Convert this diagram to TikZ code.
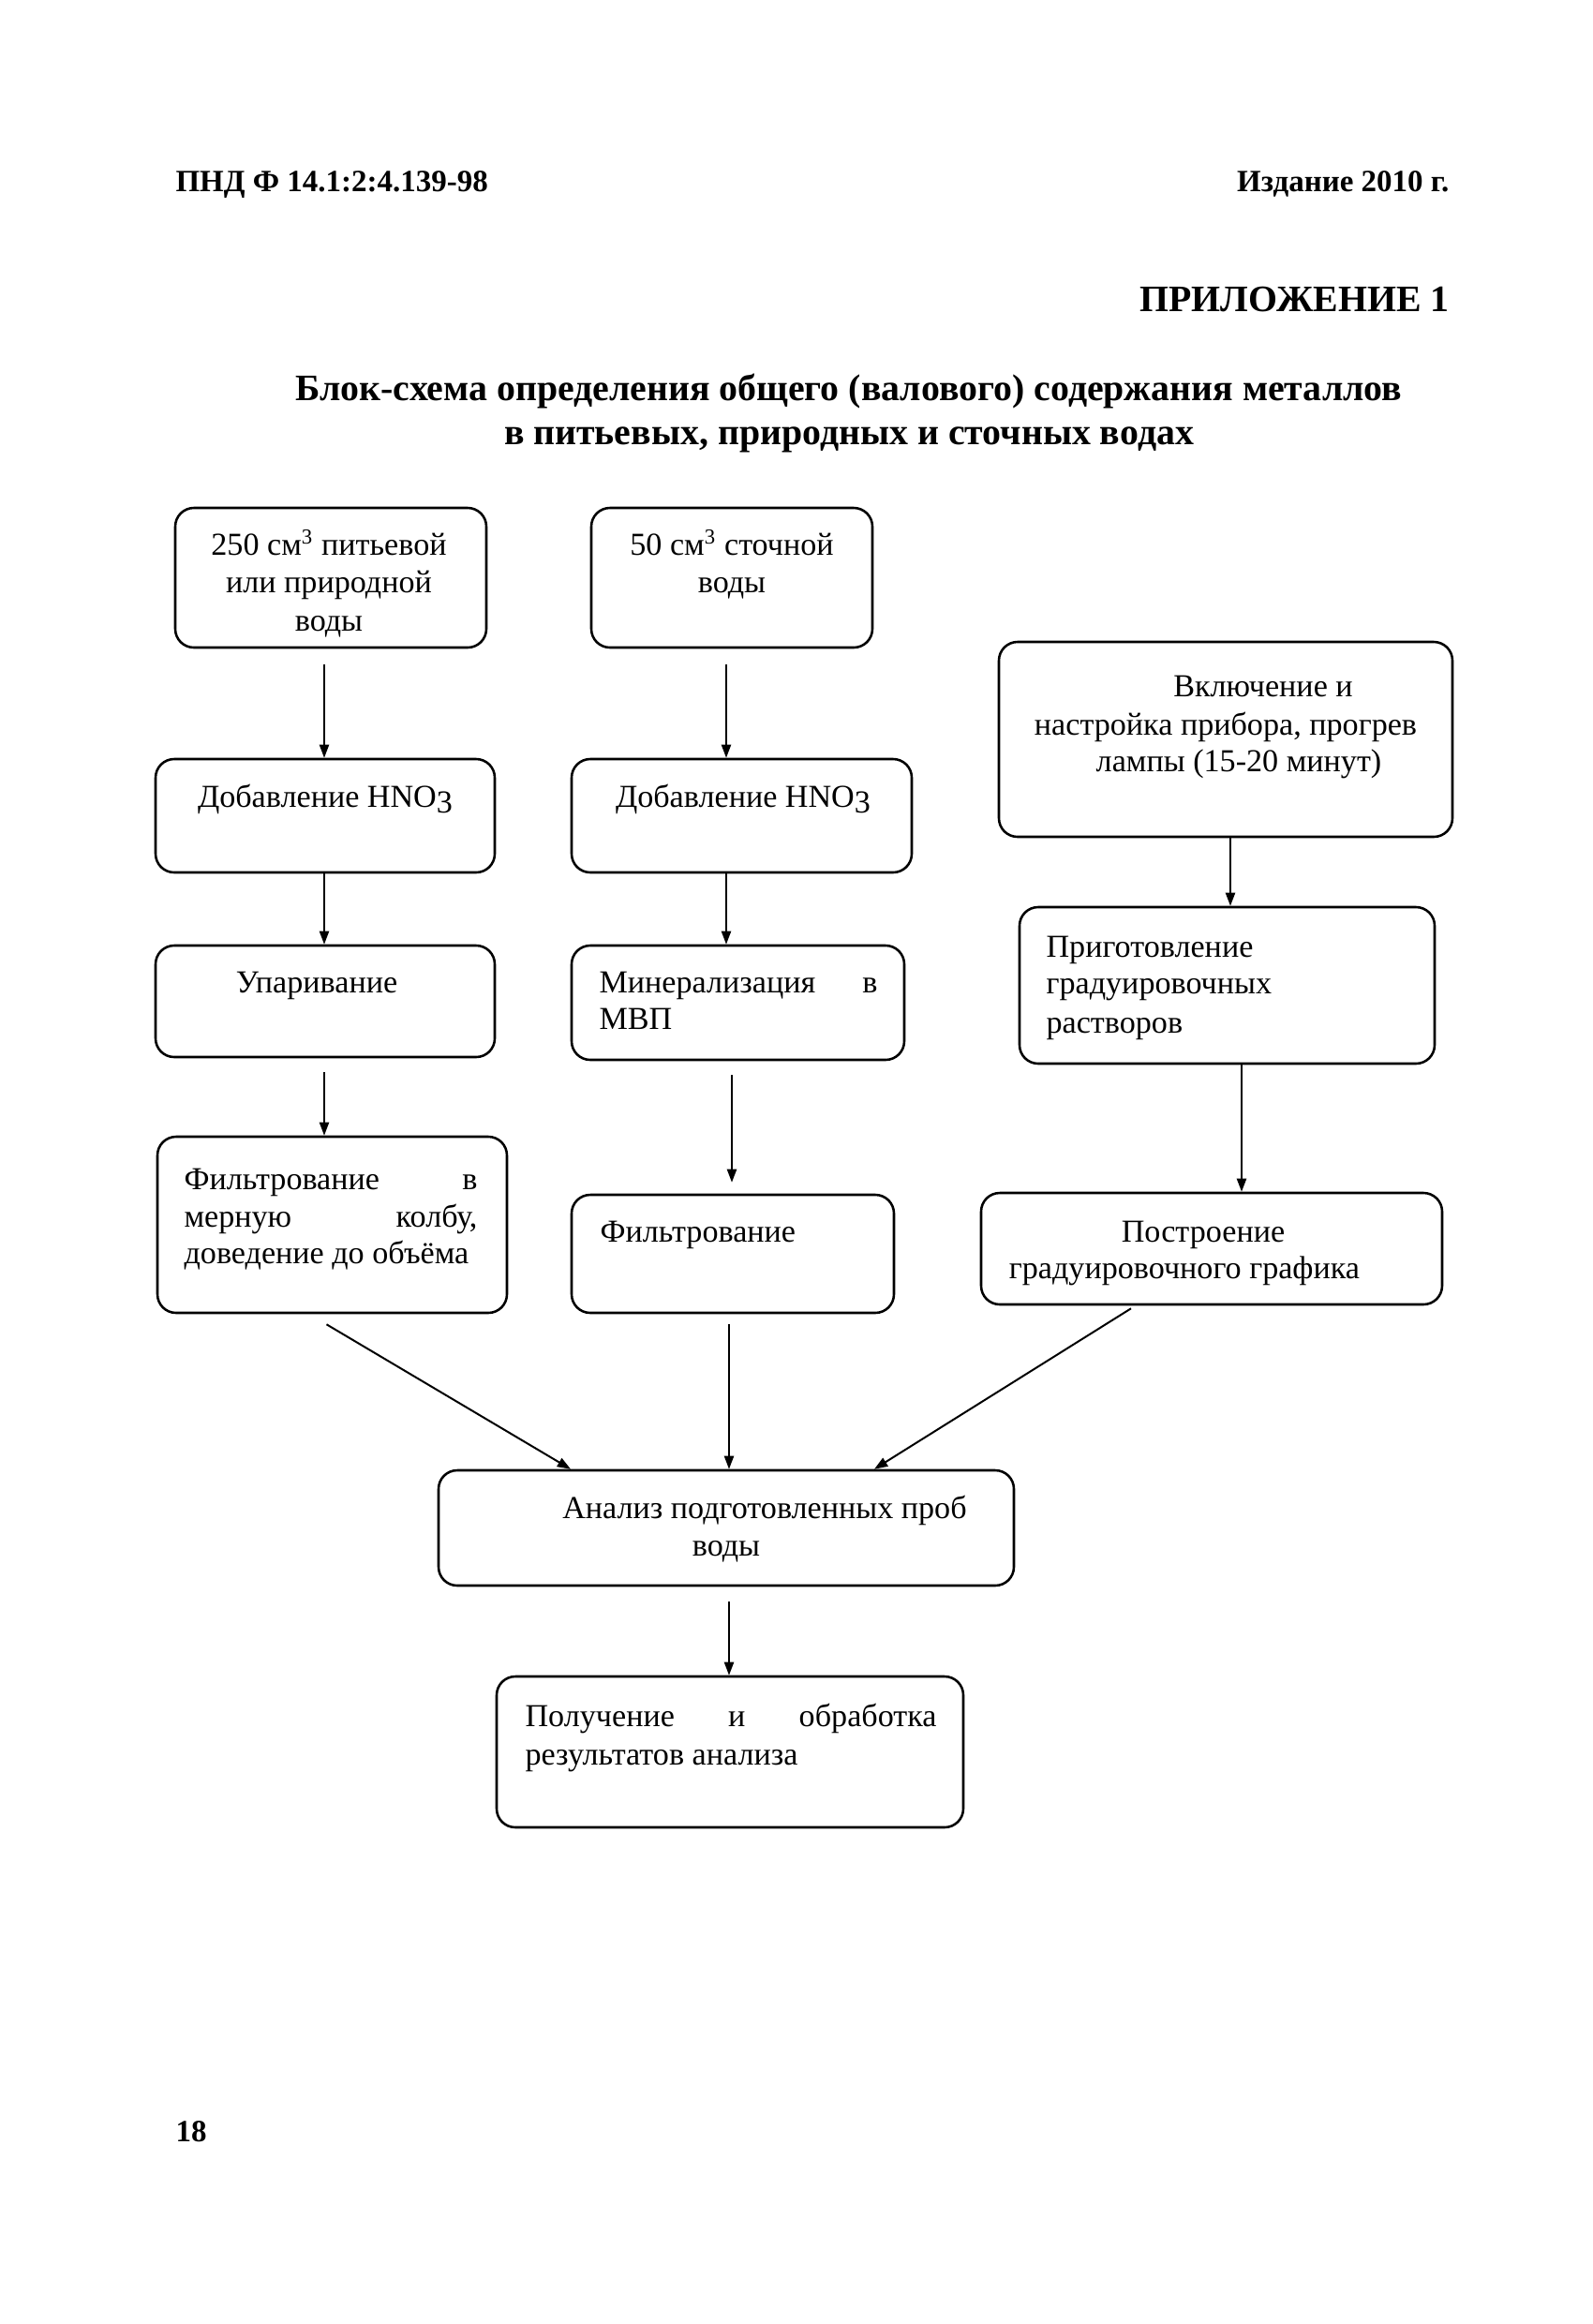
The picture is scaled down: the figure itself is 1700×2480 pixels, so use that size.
\documentclass[tikz,border=0pt]{standalone}
\usepackage{fontspec}
\setmainfont{Liberation Serif}
\usetikzlibrary{arrows.meta,calc}
\newcommand\mkbox[5]{\node[box,minimum width={#4*0.3515pt},minimum height={#5*0.3515pt}] (#1) at (#2,#3) {};}
\newcommand\hnothree{HNO\raisebox{-0.4ex}{3}}
\begin{document}
\begin{tikzpicture}[x=0.3515pt,y=-0.3515pt,
  box/.style={draw,line width=0.9pt,rounded corners=7pt,inner sep=0pt},
  txt/.style={inner sep=0pt,yshift=-2.1pt,font=\fontsize{12}{14}\selectfont},
  hdr/.style={inner sep=0pt,yshift=-1.6pt,font=\bfseries\fontsize{11.6}{14}\selectfont},
  ttl/.style={inner sep=0pt,yshift=-1.6pt,font=\bfseries\fontsize{14}{16}\selectfont},
  arr/.style={line width=0.7pt,-{Triangle[length=5pt,width=3.6pt]}},
]
\useasboundingbox (0,0) rectangle (1700,2480);
\fill[white] (0,0) rectangle (1700,2480);

% header
\node[hdr,anchor=mid west] (h1) at (187,193) {ПНД Ф 14.1:2:4.139-98};
\node[hdr,anchor=mid east] (h2) at (1547,193) {Издание 2010 г.};
\node[ttl,anchor=mid east] (h3) at (1547,321) {ПРИЛОЖЕНИЕ 1};
\node[ttl,anchor=mid] (t1) at (906,416) {Блок-схема определения общего (валового) содержания металлов};
\node[ttl,anchor=mid] (t2) at (906,463) {в питьевых, природных и сточных водах};
\node[hdr,anchor=mid west] (pg) at (187,2274) {18};

% boxes
\mkbox{b1}{353}{616.5}{332}{149}
\mkbox{b2}{781}{616.5}{300}{149}
\mkbox{b3}{1308}{789}{484}{208}
\mkbox{b4}{347}{870.5}{362}{121}
\mkbox{b5}{791.5}{870.5}{363}{121}
\mkbox{b6}{347}{1068.5}{362}{119}
\mkbox{b7}{787.5}{1070}{355}{122}
\mkbox{b8}{1309.5}{1051.5}{443}{167}
\mkbox{b9}{354.5}{1307}{373}{188}
\mkbox{b10}{782}{1338}{344}{126}
\mkbox{b11}{1293}{1332.5}{492}{119}
\mkbox{b12}{775}{1630.5}{614}{123}
\mkbox{b13}{779}{1869.5}{498}{161}

% texts
\node[txt,anchor=mid] (x1a) at (351,580) {250 см\textsuperscript{3} питьевой};
\node[txt,anchor=mid] (x1b) at (351,620) {или природной};
\node[txt,anchor=mid] (x1c) at (351,661) {воды};
\node[txt,anchor=mid] (x2a) at (781,580) {50 см\textsuperscript{3} сточной};
\node[txt,anchor=mid] (x2b) at (781,620) {воды};
\node[txt,anchor=mid] (x3a) at (1348,731) {Включение и};
\node[txt,anchor=mid] (x3b) at (1308,772) {настройка прибора, прогрев};
\node[txt,anchor=mid] (x3c) at (1322,811) {лампы (15-20 минут)};
\node[txt,anchor=mid] (x4) at (347,849) {Добавление \hnothree};
\node[txt,anchor=mid] (x5) at (793,849) {Добавление \hnothree};
\node[txt,anchor=mid] (x6) at (338,1047) {Упаривание};
\node[txt,anchor=mid west] (x7a) at (639,1047) {\hbox to 104.4pt{Минерализация\hfill в}};
\node[txt,anchor=mid west] (x7b) at (639,1086) {МВП};
\node[txt,anchor=mid west] (x8a) at (1116,1009) {Приготовление};
\node[txt,anchor=mid west] (x8b) at (1116,1048) {градуировочных};
\node[txt,anchor=mid west] (x8c) at (1116,1090) {растворов};
\node[txt,anchor=mid west] (x9a) at (196,1257) {\hbox to 110pt{Фильтрование\hfill в}};
\node[txt,anchor=mid west] (x9b) at (196,1297) {\hbox to 110pt{мерную\hfill колбу,}};
\node[txt,anchor=mid west] (x9c) at (196,1336) {доведение до объёма};
\node[txt,anchor=mid west] (x10) at (640,1313) {Фильтрование};
\node[txt,anchor=mid] (x11a) at (1284,1313) {Построение};
\node[txt,anchor=mid] (x11b) at (1264,1352) {градуировочного графика};
\node[txt,anchor=mid] (x12a) at (816,1608) {Анализ подготовленных проб};
\node[txt,anchor=mid] (x12b) at (775,1648) {воды};
\node[txt,anchor=mid west] (x13a) at (560,1830) {\hbox to 154.3pt{Получение\hfill и\hfill обработка}};
\node[txt,anchor=mid west] (x13b) at (560,1871) {результатов анализа};

% arrows
\draw[arr] ($(b1.south)+(-7,17)$) -- ($(b4.north)+(-1,0)$);
\draw[arr] ($(b2.south)+(-6,17)$) -- ($(b5.north)+(-16.5,0)$);
\draw[arr] ($(b4.south)+(-1,0)$) -- ($(b6.north)+(-1,0)$);
\draw[arr] ($(b5.south)+(-16.5,0)$) -- ($(b7.north)+(-12.5,0)$);
\draw[arr] ($(b3.south)+(5,0)$) -- ($(b8.north)+(3.5,0)$);
\draw[arr] ($(b6.south)+(-1,15)$) -- ($(b9.north)+(-8.5,0)$);
\draw[arr] ($(b7.south)+(-6.5,15)$) -- ($(b10.north)+(-1,-12)$);
\draw[arr] ($(b8.south)+(15.5,0)$) -- ($(b11.north)+(32,0)$);
\draw[arr] ($(b9.south)+(-6,11)$) -- ($(b12.north)+(-166,0)$);
\draw[arr] ($(b10.south)+(-4,11)$) -- ($(b12.north)+(3,0)$);
\draw[arr] ($(b11.south)+(-86,3)$) -- ($(b12.north)+(158,0)$);
\draw[arr] ($(b12.south)+(3,16)$) -- ($(b13.north)+(-1,0)$);
\end{tikzpicture}
\end{document}
